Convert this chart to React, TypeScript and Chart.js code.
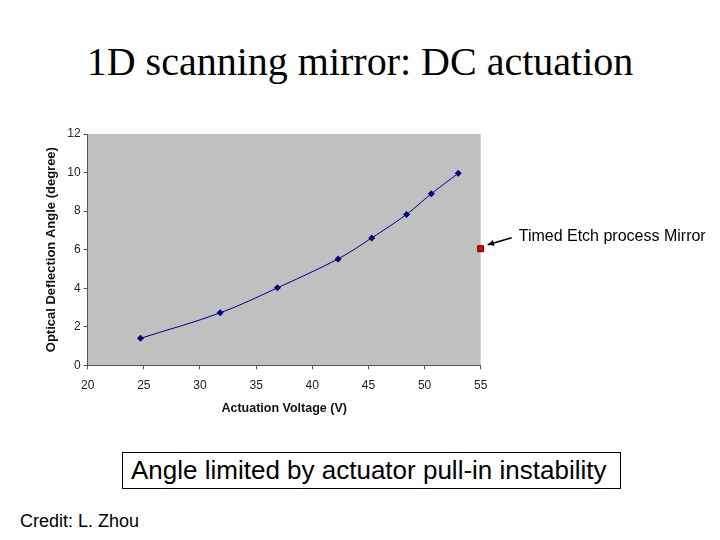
import React, { useEffect, useRef } from "react";
import { Chart, registerables, Plugin } from "chart.js";

Chart.register(...registerables);

// Measured deflection vs. actuation voltage
const voltage: number[] = [24.7, 31.8, 36.9, 42.3, 45.3, 48.4, 50.6, 53.0];
const angle: number[] = [1.4, 2.72, 4.02, 5.52, 6.61, 7.83, 8.9, 9.96];

// Timed etch process mirror (single point)
const etchVoltage: number[] = [55];
const etchAngle: number[] = [6.05];

const xTicks = { min: 20, max: 55, step: 5 };
const yTicks = { min: 0, max: 12, step: 2 };

const annotationText = "Timed Etch process Mirror";

const plotBackground: Plugin<"line"> = {
  id: "plotBackground",
  beforeDraw(chart) {
    const { ctx, chartArea } = chart;
    ctx.save();
    ctx.fillStyle = "#c0c0c0";
    ctx.fillRect(chartArea.left, chartArea.top, chartArea.right - chartArea.left, chartArea.bottom - chartArea.top);
    ctx.restore();
  },
};

// arrow + label pointing at the red square
const etchLabel: Plugin<"line"> = {
  id: "etchLabel",
  afterDatasetsDraw(chart) {
    const meta = chart.getDatasetMeta(1);
    const pt = meta.data[0];
    if (!pt) return;
    const { ctx } = chart;
    const x = pt.x;
    const y = pt.y;
    ctx.save();
    ctx.strokeStyle = "#000";
    ctx.fillStyle = "#000";
    ctx.lineWidth = 1.5;
    const tx = x + 31, ty = y - 11;
    const hx = x + 7, hy = y - 4;
    ctx.beginPath();
    ctx.moveTo(tx, ty);
    ctx.lineTo(hx, hy);
    ctx.stroke();
    const ang = Math.atan2(hy - ty, hx - tx);
    ctx.beginPath();
    ctx.moveTo(hx, hy);
    ctx.lineTo(hx - 7 * Math.cos(ang - 0.45), hy - 7 * Math.sin(ang - 0.45));
    ctx.lineTo(hx - 7 * Math.cos(ang + 0.45), hy - 7 * Math.sin(ang + 0.45));
    ctx.closePath();
    ctx.fill();
    ctx.font = "16px 'Liberation Sans', Arial, sans-serif";
    ctx.textBaseline = "middle";
    ctx.textAlign = "left";
    ctx.fillText(annotationText, x + 38, y - 12);
    ctx.restore();
  },
};

const DeflectionChart: React.FC = () => {
  const chartRef = useRef<HTMLCanvasElement | null>(null);
  const chartInstance = useRef<Chart | null>(null);

  useEffect(() => {
    if (!chartRef.current) return;
    if (chartInstance.current) chartInstance.current.destroy();

    const tickFont = { family: "'Liberation Sans', Arial, sans-serif", size: 12 };
    const xTitleFont = { family: "'Liberation Sans', Arial, sans-serif", size: 12.5, weight: "bold" as const };
    const yTitleFont = { family: "'Liberation Sans', Arial, sans-serif", size: 13, weight: "bold" as const };

    chartInstance.current = new Chart(chartRef.current, {
      type: "line",
      data: {
        datasets: [
          {
            data: voltage.map((v, i) => ({ x: v, y: angle[i] })),
            borderColor: "#000080",
            backgroundColor: "#000080",
            borderWidth: 1,
            tension: 0.35,
            pointStyle: "rectRot",
            pointRadius: 3.5,
            pointBorderWidth: 0,
          },
          {
            data: etchVoltage.map((v, i) => ({ x: v, y: etchAngle[i] })),
            showLine: false,
            pointStyle: "rect",
            pointRadius: 4.2,
            backgroundColor: "#e00000",
            borderColor: "#600000",
            pointBorderWidth: 1,
            clip: false,
          },
        ],
      },
      options: {
        animation: false,
        responsive: false,
        layout: { padding: { left: 0, top: 14, right: 239.3, bottom: 0 } },
        plugins: { legend: { display: false }, tooltip: { enabled: false } },
        scales: {
          x: {
            type: "linear",
            min: xTicks.min,
            max: xTicks.max,
            ticks: { stepSize: xTicks.step, font: tickFont, color: "#222", padding: 9, maxRotation: 0 },
            grid: { drawOnChartArea: false, drawTicks: true, tickLength: 4, color: "#555" },
            border: { display: true, color: "#555", width: 1 },
            title: { display: true, text: "Actuation Voltage (V)", font: xTitleFont, color: "#111", padding: { top: 8, bottom: 24 } },
            afterFit: (scale) => {
              scale.height = 74.7;
            },
          },
          y: {
            min: yTicks.min,
            max: yTicks.max,
            ticks: { stepSize: yTicks.step, font: tickFont, color: "#222", padding: 3 },
            grid: { drawOnChartArea: false, drawTicks: true, tickLength: 4, color: "#555" },
            border: { display: true, color: "#555", width: 1 },
            title: { display: true, text: "Optical Deflection Angle (degree)", font: yTitleFont, color: "#111", padding: { top: 14, bottom: 0 } },
            afterFit: (scale) => {
              scale.width = 57.7;
            },
          },
        },
      },
      plugins: [plotBackground, etchLabel],
    });

    return () => {
      if (chartInstance.current) {
        chartInstance.current.destroy();
        chartInstance.current = null;
      }
    };
  }, []);

  return (
    <canvas
      ref={chartRef}
      width={690}
      height={320}
      style={{ position: "absolute", left: 30, top: 120, width: 690, height: 320 }}
    />
  );
};

export default function App() {
  useEffect(() => {
    document.body.style.margin = "0";
  }, []);

  return (
    <div style={{ position: "relative", width: 720, height: 540, background: "#fff", overflow: "hidden" }}>
      <div
        style={{
          position: "absolute",
          left: 0,
          width: 720,
          top: 37,
          textAlign: "center",
          fontFamily: "'Liberation Serif', 'Times New Roman', serif",
          fontSize: 40,
          lineHeight: "50px",
          color: "#000",
        }}
      >
        1D scanning mirror: DC actuation
      </div>
      <DeflectionChart />
      <div
        style={{
          position: "absolute",
          left: 122,
          top: 452,
          width: 489,
          height: 35,
          border: "1px solid #000",
          fontFamily: "'Liberation Sans', Arial, sans-serif",
          fontSize: 26,
          lineHeight: "35px",
          paddingLeft: 8,
          boxSizing: "content-box",
          color: "#000",
          whiteSpace: "nowrap",
        }}
      >
        Angle limited by actuator pull-in instability
      </div>
      <div
        style={{
          position: "absolute",
          left: 20,
          top: 509,
          fontFamily: "'Liberation Sans', Arial, sans-serif",
          fontSize: 18,
          lineHeight: "24px",
          color: "#000",
        }}
      >
        Credit: L. Zhou
      </div>
    </div>
  );
}
